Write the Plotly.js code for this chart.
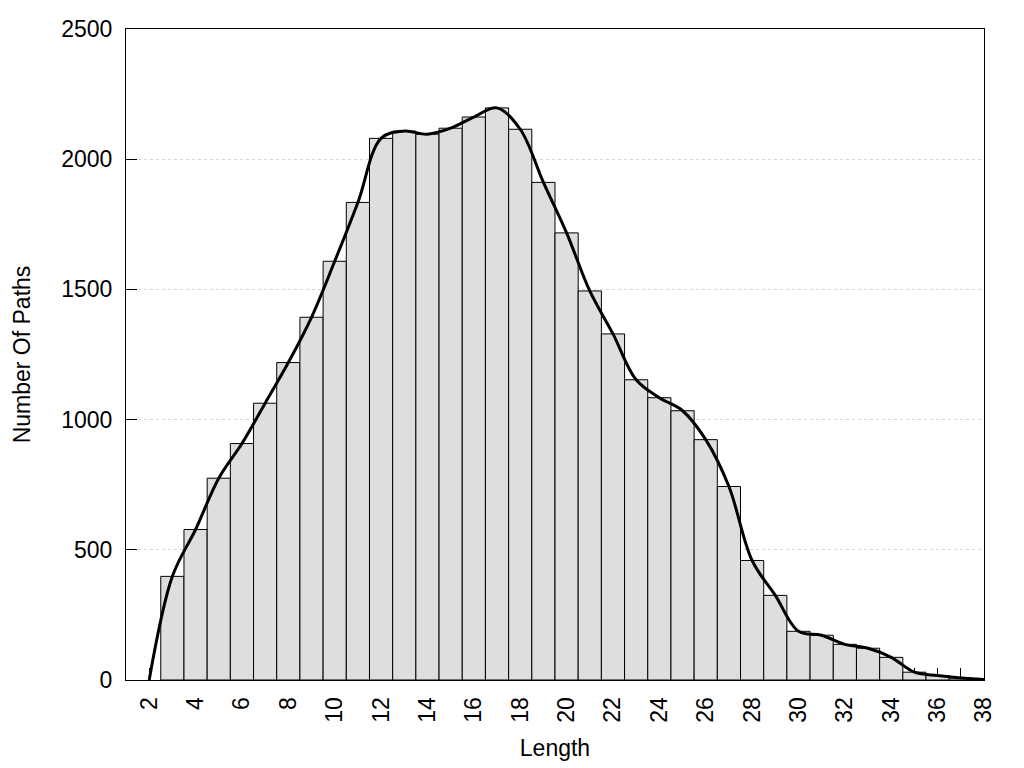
<!DOCTYPE html>
<html>
<head>
<meta charset="utf-8">
<script src="https://cdn.plot.ly/plotly-3.0.1.min.js"></script>
<style>html,body{margin:0;padding:0;background:#fff;}#chart{width:1024px;height:768px;}</style>
</head>
<body>
<div id="chart"></div>
<script>
// Path length bins and counts
const lengths = [3,4,5,6,7,8,9,10,11,12,13,14,15,16,17,18,19,20,21,22,23,24,25,26,27,28,29,30,31,32,33,34,35,36,37];
const counts  = [398,578,775,908,1063,1219,1393,1608,1834,2080,2108,2096,2119,2162,2197,2115,1911,1717,1494,1329,1153,1084,1034,923,743,459,325,187,172,137,122,87,30,17,8];
// Smooth curve endpoints (start and end of the fitted line)
const curveStart = {x: 2, y: 0};
const curveEnd = {x: 38, y: 2};
const xTickVals = [2,3,4,5,6,7,8,9,10,11,12,13,14,15,16,17,18,19,20,21,22,23,24,25,26,27,28,29,30,31,32,33,34,35,36,37,38];
const xTickText = ['2','','4','','6','','8','','10','','12','','14','','16','','18','','20','','22','','24','','26','','28','','30','','32','','34','','36','','38'];
const yTickVals = [0,500,1000,1500,2000,2500];

const curveX = [curveStart.x].concat(lengths, [curveEnd.x]);
const curveY = [curveStart.y].concat(counts, [curveEnd.y]);

const font = {family: 'Liberation Sans, Arial, sans-serif', size: 23, color: '#000'};

const data = [
  {
    type: 'bar', x: lengths, y: counts, width: 1,
    marker: {color: '#dedede', line: {color: '#000', width: 1}},
    hoverinfo: 'x+y'
  },
  {
    type: 'scatter', mode: 'lines', x: curveX, y: curveY,
    line: {color: '#000', width: 3, shape: 'spline', smoothing: 1},
    hoverinfo: 'skip'
  }
];

const layout = {
  width: 1024, height: 768,
  paper_bgcolor: '#fff', plot_bgcolor: '#fff',
  margin: {l: 126, r: 40, t: 29, b: 88, pad: 0},
  showlegend: false,
  bargap: 0,
  font: font,
  xaxis: {
    range: [1, 38],
    tickmode: 'array', tickvals: xTickVals, ticktext: xTickText,
    tickangle: -90,
    ticks: 'inside', ticklen: 12, tickwidth: 1, tickcolor: '#000',
    ticklabelstandoff: 7,
    showline: true, linecolor: '#000', linewidth: 1, mirror: true,
    showgrid: false, zeroline: false,
    layer: 'below traces',
    tickfont: font,
    title: {text: 'Length', font: font, standoff: 18},
    automargin: false
  },
  yaxis: {
    range: [0, 2500],
    tickmode: 'array', tickvals: yTickVals,
    ticks: 'inside', ticklen: 11, tickwidth: 1, tickcolor: '#000',
    ticklabelstandoff: 8,
    showline: true, linecolor: '#000', linewidth: 1, mirror: true,
    showgrid: true, gridcolor: '#d4d4d4', gridwidth: 1, griddash: 'dot',
    zeroline: false,
    layer: 'below traces',
    tickfont: font,
    title: {text: 'Number Of Paths', font: font, standoff: 24},
    automargin: false
  }
};

Plotly.newPlot('chart', data, layout, {displayModeBar: false, staticPlot: true});
</script>
</body>
</html>
